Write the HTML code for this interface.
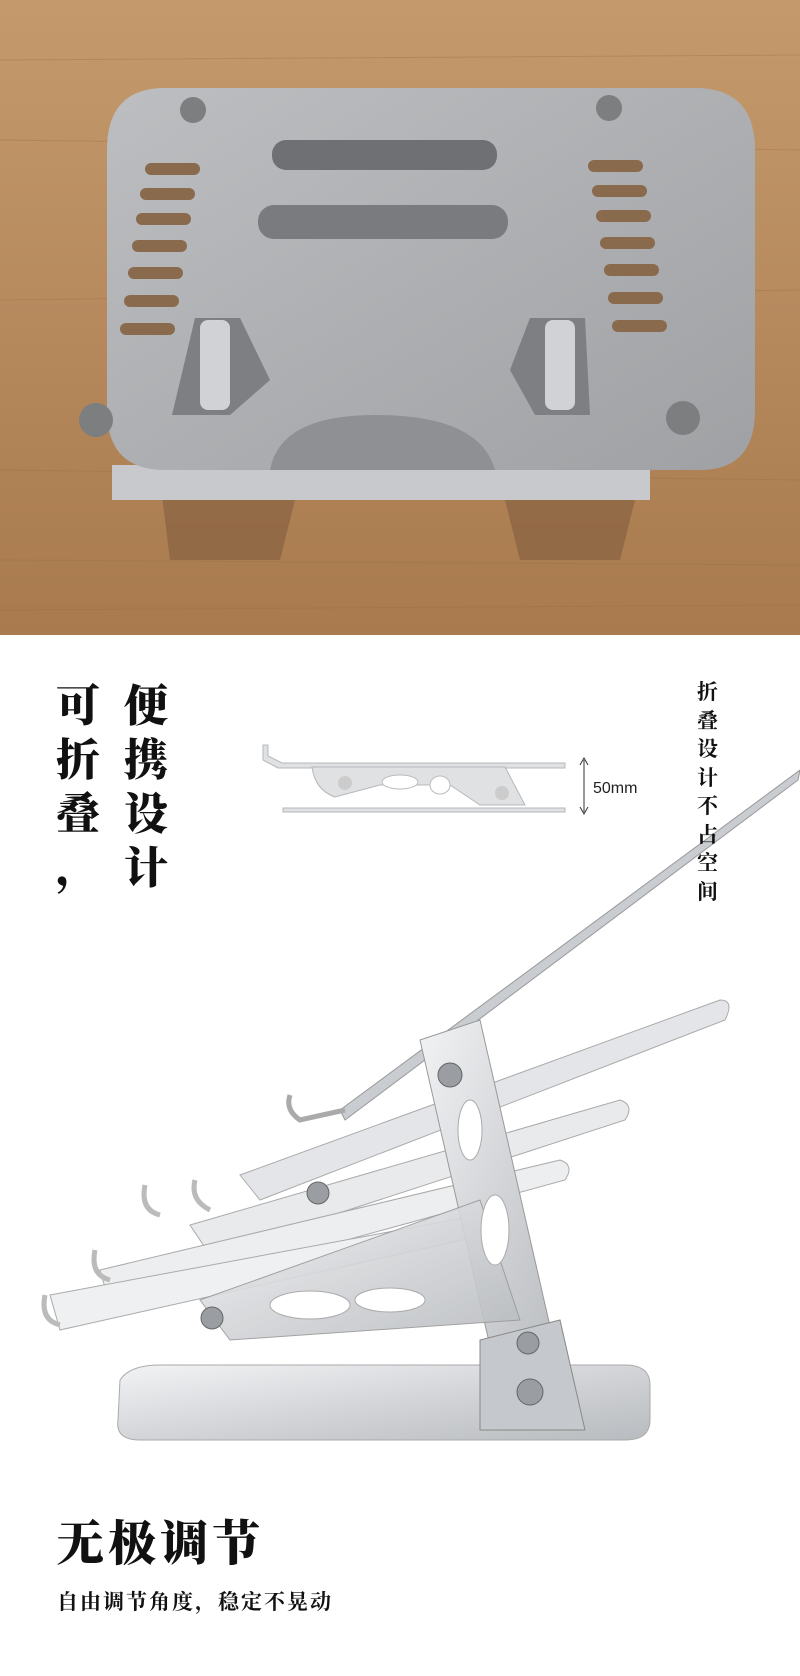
<!DOCTYPE html>
<html><head><meta charset="utf-8"><style>
body{margin:0;width:800px;height:1676px;position:relative;background:#fff;overflow:hidden;font-family:"Liberation Serif","Noto Serif CJK SC",serif}
.t{position:absolute;color:#111;font-weight:900}
</style></head><body>
<svg width="800" height="1676" style="position:absolute;left:0;top:0">
<defs>
<linearGradient id="wood" x1="0" y1="0" x2="0" y2="1"><stop offset="0" stop-color="#c49a6c"/><stop offset="1" stop-color="#a87a4e"/></linearGradient>
<linearGradient id="plate" x1="0" y1="0" x2="1" y2="1"><stop offset="0" stop-color="#bcbec1"/><stop offset=".5" stop-color="#adafb2"/><stop offset="1" stop-color="#9fa1a4"/></linearGradient>
<linearGradient id="al" x1="0" y1="0" x2="1" y2="1"><stop offset="0" stop-color="#f2f3f5"/><stop offset=".5" stop-color="#d3d5d8"/><stop offset="1" stop-color="#b8bbbf"/></linearGradient>
</defs>
<rect width="800" height="635" fill="url(#wood)"/>
<g stroke="#9a6c42" stroke-width="1" opacity=".35">
<line x1="0" y1="60" x2="800" y2="55"/><line x1="0" y1="140" x2="800" y2="150"/><line x1="0" y1="300" x2="800" y2="290"/><line x1="0" y1="470" x2="800" y2="480"/><line x1="0" y1="560" x2="800" y2="565"/><line x1="0" y1="610" x2="800" y2="605"/></g>
<path d="M160 480 H300 L280 560 H170 Z M500 480 H640 L620 560 H520 Z" fill="#7d5a3a" opacity=".55"/>
<path d="M112 465 H650 V500 H112 Z" fill="#c8c9cc"/>
<path d="M165 88 H695 Q755 88 755 150 V410 Q755 470 700 470 H165 Q107 470 107 410 V150 Q107 88 165 88 Z" fill="url(#plate)"/>
<path d="M270 470 Q280 415 375 415 Q480 415 495 470 Z" fill="#8e9093"/>
<rect x="272" y="140" width="225" height="30" rx="14" fill="#6f7073"/>
<rect x="258" y="205" width="250" height="34" rx="16" fill="#7a7b7e"/>
<g fill="#8a6a4c">
<rect x="145" y="163" width="55" height="12" rx="6"/><rect x="140" y="188" width="55" height="12" rx="6"/><rect x="136" y="213" width="55" height="12" rx="6"/><rect x="132" y="240" width="55" height="12" rx="6"/><rect x="128" y="267" width="55" height="12" rx="6"/><rect x="124" y="295" width="55" height="12" rx="6"/><rect x="120" y="323" width="55" height="12" rx="6"/>
<rect x="588" y="160" width="55" height="12" rx="6"/><rect x="592" y="185" width="55" height="12" rx="6"/><rect x="596" y="210" width="55" height="12" rx="6"/><rect x="600" y="237" width="55" height="12" rx="6"/><rect x="604" y="264" width="55" height="12" rx="6"/><rect x="608" y="292" width="55" height="12" rx="6"/><rect x="612" y="320" width="55" height="12" rx="6"/></g>
<path d="M195 318 H240 L270 380 L230 415 H172 Z" fill="#7d7f82"/><rect x="200" y="320" width="30" height="90" rx="8" fill="#d0d2d5"/>
<path d="M530 318 H585 L590 415 H535 L510 370 Z" fill="#7d7f82"/><rect x="545" y="320" width="30" height="90" rx="8" fill="#d0d2d5"/>
<g fill="#7c7e80"><circle cx="193" cy="110" r="13"/><circle cx="609" cy="108" r="13"/><circle cx="96" cy="420" r="17"/><circle cx="683" cy="418" r="17"/></g>
<g fill="#dfe1e3" stroke="#b5b8bb" stroke-width="1">
<path d="M263 745 V760 L278 768 H565 V763 H282 L268 756 V745Z"/>
<rect x="283" y="808" width="282" height="4"/>
<path d="M312 767 H505 L525 805 H480 L450 785 H380 L335 797 Q315 790 312 767Z"/></g>
<g fill="#fff" stroke="#bbb"><ellipse cx="400" cy="782" rx="18" ry="7"/><ellipse cx="440" cy="785" rx="10" ry="9"/></g>
<circle cx="345" cy="783" r="7" fill="#ccc"/><circle cx="502" cy="793" r="7" fill="#ccc"/>
<line x1="584" y1="760" x2="584" y2="812" stroke="#333"/><path d="M580 765 L584 758 L588 765 M580 807 L584 814 L588 807" fill="none" stroke="#333"/>
<path d="M120 1380 Q130 1365 160 1365 H625 Q650 1365 650 1385 V1420 Q650 1440 625 1440 H140 Q115 1440 118 1420Z" fill="url(#al)" stroke="#aaa"/>
<path d="M340 1110 L800 770 L798 780 L345 1120Z" fill="#c9ccd0" stroke="#999"/>
<path d="M290 1095 Q285 1110 300 1120 L345 1110" fill="none" stroke="#aaa" stroke-width="5"/>
<path d="M240 1175 L720 1000 Q735 1000 725 1020 L260 1200Z" fill="#e3e5e8" stroke="#aaa"/>
<path d="M190 1225 L620 1100 Q635 1105 625 1120 L210 1255Z" fill="#e8eaec" stroke="#aaa"/>
<path d="M100 1270 L560 1160 Q575 1165 565 1180 L110 1305Z" fill="#eceef0" stroke="#aaa"/>
<path d="M50 1295 L480 1215 Q495 1220 485 1235 L60 1330Z" fill="#eef0f2" stroke="#aaa"/>
<g fill="none" stroke="#bbb" stroke-width="5"><path d="M145 1185 Q140 1210 160 1215"/><path d="M195 1180 Q190 1200 210 1210"/><path d="M95 1250 Q90 1275 110 1280"/><path d="M45 1295 Q40 1320 60 1325"/></g>
<path d="M420 1040 L480 1020 L560 1370 L500 1390Z" fill="url(#al)" stroke="#999"/>
<path d="M200 1300 L480 1200 L520 1320 L230 1340Z" fill="url(#al)" stroke="#999" opacity=".9"/>
<g fill="#fff" stroke="#aaa"><ellipse cx="470" cy="1130" rx="12" ry="30"/><ellipse cx="495" cy="1230" rx="14" ry="35"/><ellipse cx="310" cy="1305" rx="40" ry="14"/><ellipse cx="390" cy="1300" rx="35" ry="12"/></g>
<path d="M480 1340 L560 1320 L585 1430 H480Z" fill="#c5c8cc" stroke="#888"/>
<g fill="#9a9da1" stroke="#666"><circle cx="450" cy="1075" r="12"/><circle cx="318" cy="1193" r="11"/><circle cx="212" cy="1318" r="11"/><circle cx="528" cy="1343" r="11"/><circle cx="530" cy="1392" r="13"/></g>
</svg>
<div class="t" style="left:56px;top:680px;font-size:44px;line-height:54px;width:46px">可<br>折<br>叠<br>，</div>
<div class="t" style="left:124px;top:680px;font-size:44px;line-height:54px;width:46px">便<br>携<br>设<br>计</div>
<div class="t" style="left:697px;top:678px;font-size:21px;line-height:28.5px;font-weight:700">折<br>叠<br>设<br>计<br>不<br>占<br>空<br>间</div>
<div style="position:absolute;left:593px;top:780px;font-size:16px;font-family:'Liberation Sans',sans-serif;color:#222">50mm</div>
<div class="t" style="left:56px;top:1505px;font-size:48px;letter-spacing:4px">无极调节</div>
<div class="t" style="left:57px;top:1586px;font-size:21px;letter-spacing:2px;font-weight:700">自由调节角度，稳定不晃动</div>
</body></html>
